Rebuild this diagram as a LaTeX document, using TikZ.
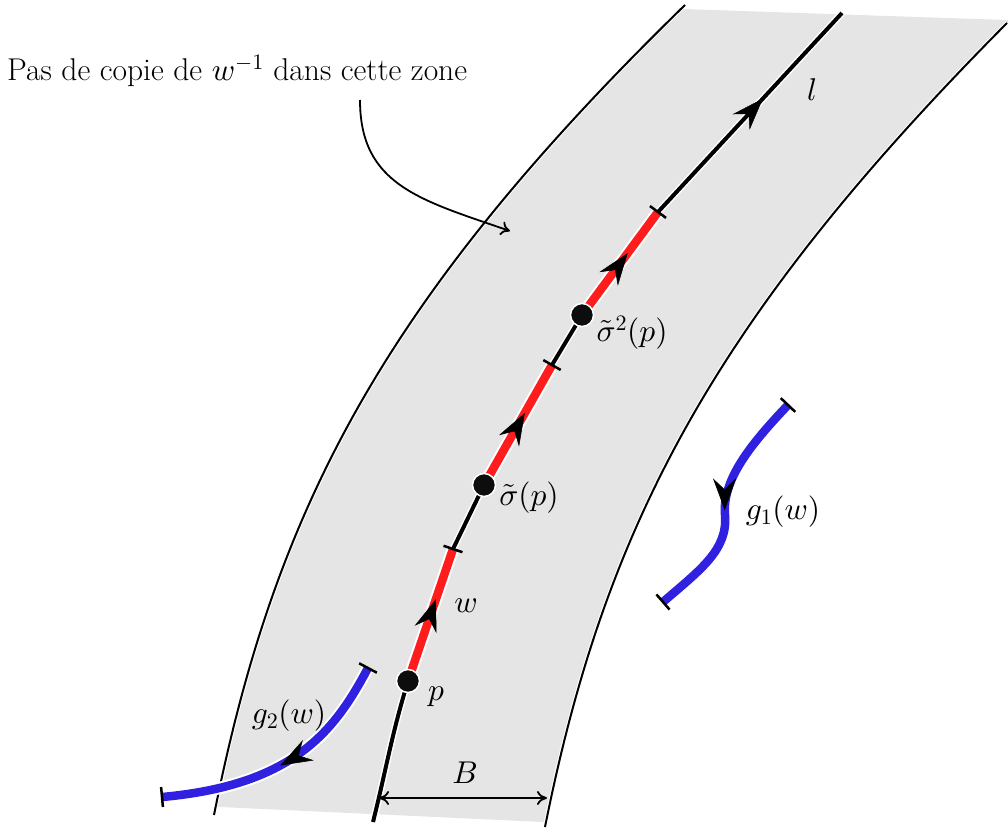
\documentclass[tikz,border=0pt]{standalone}
\DeclareFontShape{OML}{cmm}{m}{it}{<->cmmi10}{}
\DeclareFontShape{OMS}{cmsy}{m}{n}{<->cmsy10}{}
\DeclareFontShape{OT1}{cmr}{m}{n}{<->cmr10}{}
\usetikzlibrary{arrows.meta,calc,decorations.markings}
\definecolor{bandgray}{RGB}{229,229,229}
\definecolor{wred}{RGB}{255,28,28}
\definecolor{gblue}{RGB}{48,32,224}
\tikzset{
  bigtip/.tip={Stealth[length=32pt,width=23pt,inset=11pt,line width=0.5pt,color=black]},
  bound/.style={line width=2pt,preaction={draw=white,line width=4pt}},
  lline/.style={line width=4pt,black,preaction={draw=white,line width=7pt}},
  redseg/.style={draw=wred,line width=8.5pt,preaction={draw=white,line width=12.5pt},
    postaction={decorate},decoration={markings,mark=at position #1 with {\arrow{bigtip}}}},
  blueseg/.style={draw=gblue,line width=8.5pt,preaction={draw=white,line width=12.5pt},
    postaction={decorate},decoration={markings,mark=at position #1 with {\arrow{bigtip}}}},
  tickmark/.style={line width=2.5pt,black},
  dot/.style={circle,fill=black!95,draw=white,line width=1.5pt,minimum size=23pt,inner sep=0pt},
  lbl/.style={inner sep=0pt},
  dimline/.style={line width=1.8pt,{Computer Modern Rightarrow[length=10pt,width=14pt]}-{Computer Modern Rightarrow[length=10pt,width=14pt]}},
  notearrow/.style={line width=1.8pt,-{Computer Modern Rightarrow[length=9pt,width=14pt]}}
}
\begin{document}
\begin{tikzpicture}[x=1pt,y=-1pt,font=\fontsize{31.5}{38}\selectfont]
\useasboundingbox (0,0) rectangle (1008,829);
% band
\coordinate (Lb) at (214,815);
\coordinate (Lt) at (685,5);
\coordinate (Rb) at (545,827);
\coordinate (Rt) at (1007,23);
\begin{scope}
\clip (0,796.8) -- (1100,847.8) -- (1100,23.2) -- (0,-14.2) -- cycle;
\fill[bandgray] (Lb) .. controls (274,515) and (377,305) .. (Lt) -- (700,-10) -- (1040,-10) -- (Rt)
  .. controls (712,320) and (605,527) .. (Rb) -- (540,840) -- (205,840) -- cycle;
\end{scope}
\draw[bound] (Lb) .. controls (274,515) and (377,305) .. (Lt);
\draw[bound] (Rb) .. controls (605,527) and (712,320) .. (Rt);

% annotation
\node[lbl,anchor=base west] (note) at (7,81) {Pas de copie de $w^{-1}$ dans cette zone};
\coordinate (ns) at (360,100);
\coordinate (ne) at (510,231);
\draw[notearrow] (ns) .. controls (360,185) and (420,200) .. (ne);

% line l
\coordinate (l0) at (373,822);
\coordinate (cp) at (408,681);
\coordinate (t1) at (453,549);
\coordinate (cs1) at (484,485);
\coordinate (t2) at (552,365);
\coordinate (cs2) at (582,315);
\coordinate (t3) at (658,212);
\coordinate (l1) at (842,13);
\draw[lline] (l0) to[out=76,in=-107] (cp);
\draw[lline] (t1) -- (cs1);
\draw[lline] (t2) -- (cs2);
\draw[lline,postaction={decorate},decoration={markings,mark=at position 0.57 with {\arrow{bigtip}}}] (t3) -- (l1);
\draw[redseg=0.62] (cp) -- (t1);
\draw[redseg=0.6] (cs1) -- (t2);
\draw[redseg=0.6] (cs2) -- (t3);
\foreach \t/\r in {t1/cp,t2/cs1,t3/cs2}{
  \draw[tickmark] ($(\t)!10pt!90:(\r)$) -- ($(\t)!10pt!-90:(\r)$);
}
\node[dot] (p) at (cp) {};
\node[dot] (s1) at (cs1) {};
\node[dot] (s2) at (cs2) {};

% g1
\coordinate (g1a) at (788,405);
\coordinate (g1m) at (725,515);
\coordinate (g1b) at (663,602);
\draw[blueseg=0.52] (g1a) .. controls (750,445) and (722,480) .. (g1m) .. controls (728,550) and (700,570) .. (g1b);
\draw[tickmark] ($(g1a)!10pt!90:(750,445)$) -- ($(g1a)!10pt!-90:(750,445)$);
\draw[tickmark] ($(g1b)!10pt!90:(700,570)$) -- ($(g1b)!10pt!-90:(700,570)$);

% g2
\coordinate (g2a) at (368,668);
\coordinate (g2b) at (162,797);
\draw[blueseg=0.52] (g2a) .. controls (335,730) and (295,785) .. (g2b);
\draw[tickmark] ($(g2a)!10pt!90:(335,730)$) -- ($(g2a)!10pt!-90:(335,730)$);
\draw[tickmark] ($(g2b)!10pt!90:(295,785)$) -- ($(g2b)!10pt!-90:(295,785)$);

% dimension B
\coordinate (bL) at (379,798);
\coordinate (bR) at (547,798);
\draw[dimline] (bL) -- (bR);

% labels
\node[lbl] (lab-l) at (812,90) {$l$};
\node[lbl] (lab-s2) at (632,333) {$\tilde\sigma^2(p)$};
\node[lbl] (lab-s1) at (529,498) {$\tilde\sigma(p)$};
\node[lbl] (lab-w) at (466,606) {$w$};
\node[lbl] (lab-p) at (436,697) {$p$};
\node[lbl] (lab-g1) at (783,512) {$g_1(w)$};
\node[lbl] (lab-g2) at (289,716) {$g_2(w)$};
\node[lbl] (lab-B) at (465,773) {$B$};
\end{tikzpicture}
\end{document}
